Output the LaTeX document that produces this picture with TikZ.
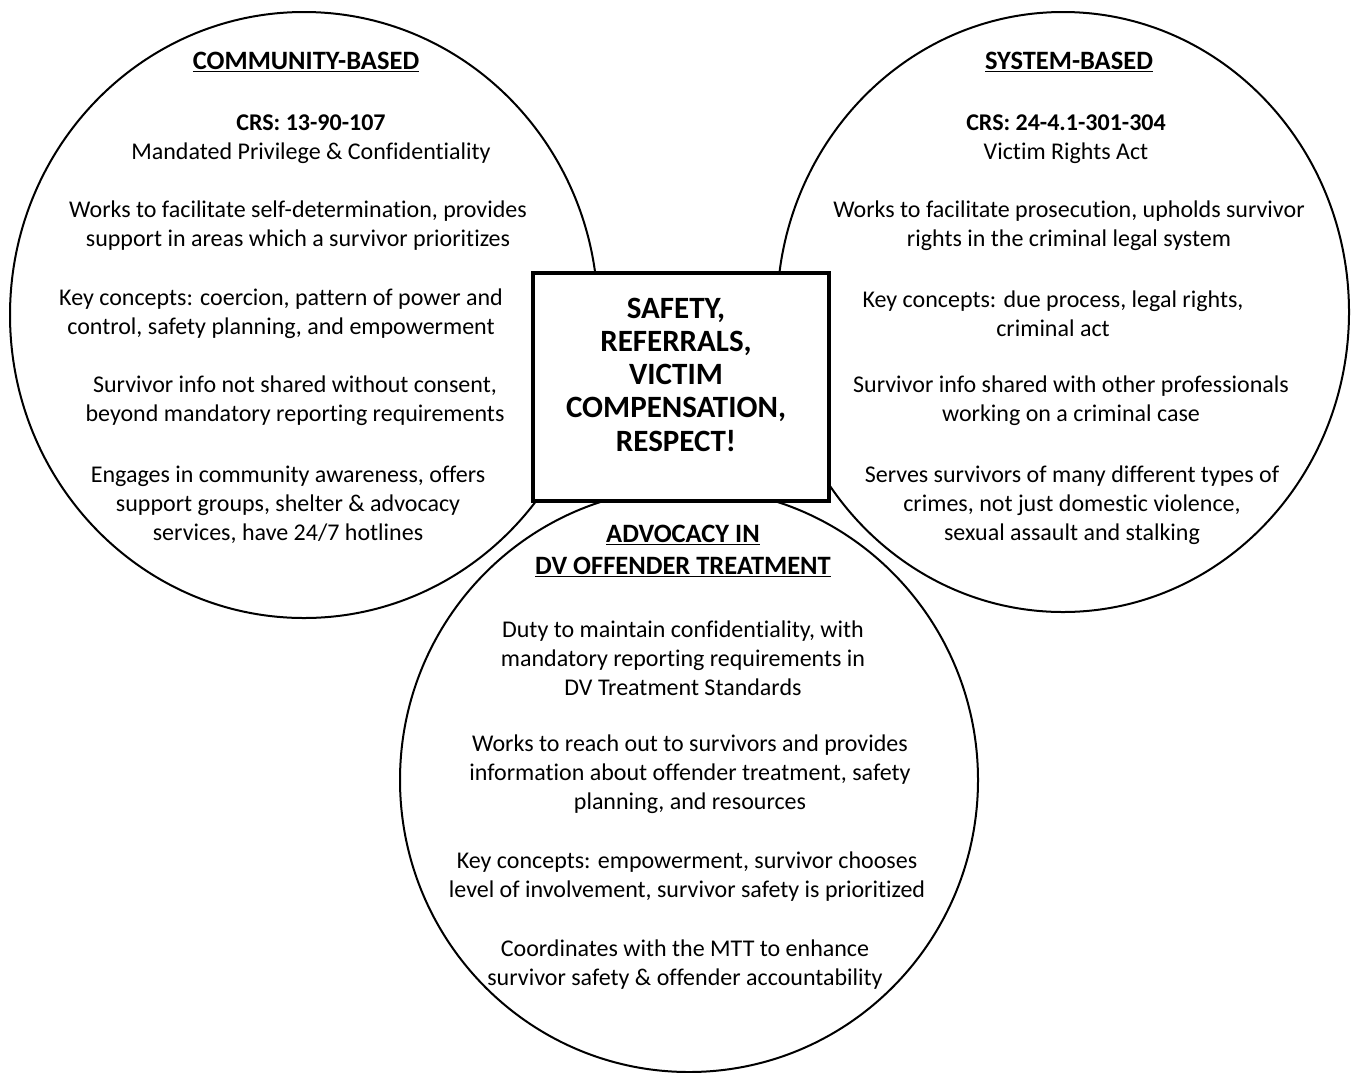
\documentclass[tikz,border=0pt]{standalone}
\usepackage{fontspec}
\setmainfont{Carlito}[Ligatures=CommonOff]

\tikzset{
  venn/.style={line width=2pt},
  para/.style={align=center, inner sep=0pt, font=\fontsize{24}{29}\selectfont},
  head/.style={align=center, inner sep=0pt, font=\fontsize{26.5}{32}\selectfont\bfseries},
  hub/.style={draw, line width=4pt, fill=white, minimum width=296pt, minimum height=228pt, inner sep=0pt},
  hubtext/.style={align=center, inner sep=0pt, font=\fontsize{31}{33.25}\selectfont\bfseries}
}

\begin{document}
\begin{tikzpicture}[x=1pt, y=-1pt]
	\useasboundingbox (0,0) rectangle (1351,1072);
	% the three fields of advocacy
	\draw [venn] (304,315) ellipse (294pt and 303pt);
	\draw [venn] (1063,312) ellipse (286pt and 300pt);
	\draw [venn] (689,780) ellipse (289pt and 292pt);
	% what they share
	\node [hub] (hub) at (680.5,386.5) {};
	\node [hubtext] (hubtxt) at (676,374.5) {SAFETY,\\REFERRALS,\\VICTIM\\COMPENSATION,\\RESPECT!};

	% community-based
	\node [head] (lhead) at (306,62) {\underline{COMMUNITY-BASED}};
	\node [para] (lcrs) at (311,139) {\textbf{CRS: 13-90-107}\\Mandated Privilege \& Confidentiality};
	\node [para] (lwork) at (298,226) {Works to facilitate self-determination, provides\\support in areas which a survivor prioritizes};
	\node [para] (lkey) at (281,313.5) {Key concepts: coercion, pattern of power and\\control, safety planning, and empowerment};
	\node [para] (linfo) at (295,400.5) {Survivor info not shared without consent,\\beyond mandatory reporting requirements};
	\node [para] (lserv) at (288,505) {Engages in community awareness, offers\\support groups, shelter \& advocacy\\services, have 24/7 hotlines};

	% system-based
	\node [head] (rhead) at (1069,62) {\underline{SYSTEM-BASED}};
	\node [para] (rcrs) at (1066,139) {\textbf{CRS: 24-4.1-301-304}\\Victim Rights Act};
	\node [para] (rwork) at (1069,226) {Works to facilitate prosecution, upholds survivor\\rights in the criminal legal system};
	\node [para] (rkey) at (1053,313.5) {Key concepts: due process, legal rights,\\criminal act};
	\node [para] (rinfo) at (1071,400.5) {Survivor info shared with other professionals\\working on a criminal case};
	\node [para] (rserv) at (1072,505) {Serves survivors of many different types of\\crimes, not just domestic violence,\\sexual assault and stalking};

	% offender treatment
	\node [head] (bhead) at (683,551) {\underline{ADVOCACY IN}\\\underline{DV OFFENDER TREATMENT}};
	\node [para] (bduty) at (683,658) {Duty to maintain confidentiality, with\\mandatory reporting requirements in\\DV Treatment Standards};
	\node [para] (breach) at (690,774.5) {Works to reach out to survivors and provides\\information about offender treatment, safety\\planning, and resources};
	\node [para] (bkey) at (687,876.5) {Key concepts: empowerment, survivor chooses\\level of involvement, survivor safety is prioritized};
	\node [para] (bcoord) at (685,964.5) {Coordinates with the MTT to enhance\\survivor safety \& offender accountability};
\end{tikzpicture}
\end{document}
